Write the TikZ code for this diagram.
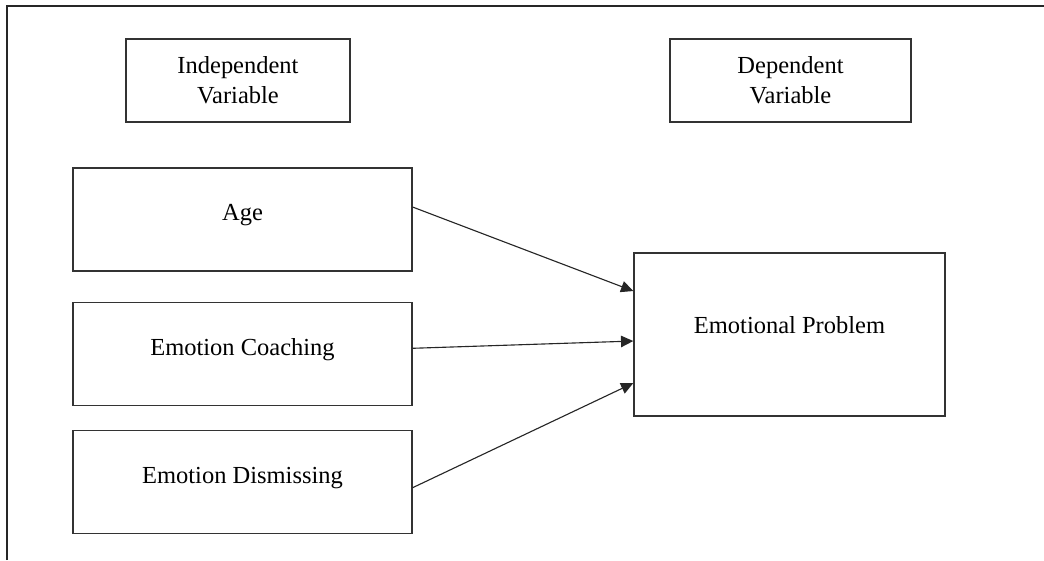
\documentclass[tikz,border=0pt]{standalone}
\usepackage{fontspec}
\setmainfont{Liberation Serif}
\usepackage{tikz}
\usetikzlibrary{positioning,arrows.meta}
\tikzset{
    varbox/.style={rectangle, draw=black!80, line width=0.7pt, align=center, font=\fontsize{12}{14.7}\selectfont, inner sep=0pt},
    factorbox/.style={varbox, minimum width=166.1pt, minimum height=50.5pt, text height=8.5pt, text depth=7.3pt},
    link/.style={-{Triangle[length=6pt, width=5.6pt]}, line width=0.55pt, black!85}
}
\begin{document}
\begin{tikzpicture}[x=0.49pt, y=-0.49pt,
                % outcome box
                outcomebox/.style={varbox, minimum width=152.4pt, minimum height=79.9pt, text height=8.5pt, text depth=9.9pt}
            ]
                \useasboundingbox (0,0) rectangle (1044,560);
                % outer frame (cut off at right and bottom)
                \draw[line width=0.9pt, black!85] (7,560) -- (7,6) -- (1044,6);

                % column headings
                \node[varbox, minimum width=109.8pt, minimum height=40.7pt] (indep) at (238,80.5) {Independent\\Variable};
                \node[varbox, minimum width=118.1pt, minimum height=40.7pt] (dep) at (790.5,80.5) {Dependent\\Variable};

                % predictors
                \node[factorbox] (age) at (242.5,219.5) {Age};
                \node[factorbox, below=14.6pt of age] (coaching) {Emotion Coaching};
                \node[factorbox, below=11.7pt of coaching] (dismissing) {Emotion Dismissing};

                % outcome
                \node[outcomebox] (problem) at (789.5,334.5) {Emotional Problem};

                % paths
                \draw[link] ([yshift=6.1pt]age.east) -- ([yshift=21.3pt]problem.west);
                \draw[link] ([yshift=2.7pt]coaching.east) -- ([yshift=-3.2pt]problem.west);
                \draw[link] ([yshift=-2.7pt]dismissing.east) -- ([yshift=-23.8pt]problem.west);
            \end{tikzpicture}
\end{document}
